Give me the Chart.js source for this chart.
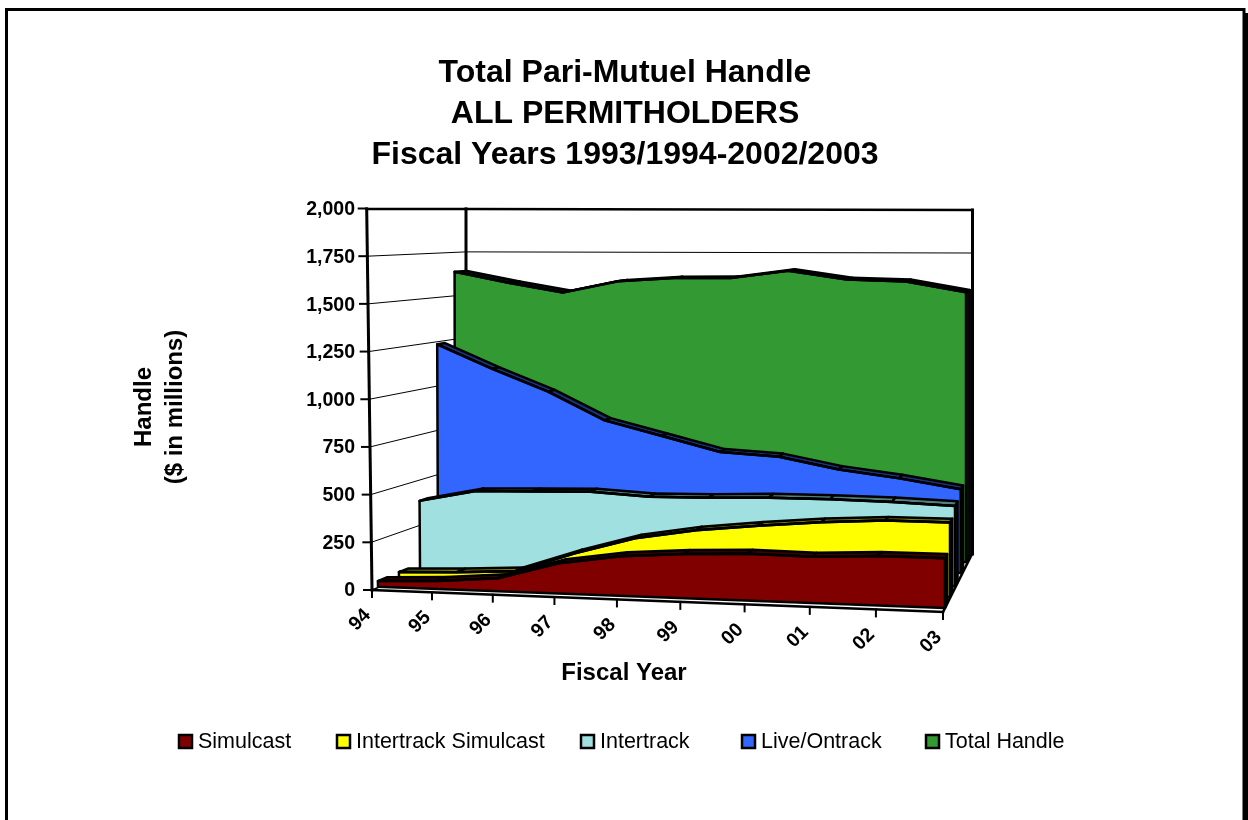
<!DOCTYPE html>
<html>
<head>
<meta charset="utf-8">
<title>Total Pari-Mutuel Handle</title>
<script src="https://cdn.jsdelivr.net/npm/chart.js@4"></script>
<style>html,body{margin:0;padding:0;background:#fff}canvas{display:block}</style>
</head>
<body>
<canvas id="c" width="1248" height="820"></canvas>
<script>
const categories = ['94','95','96','97','98','99','00','01','02','03'];
const simulcast = [30,42,68,158,206,228,240,235,250,250];
const intertrackSimulcast = [32,42,58,164,254,307,341,369,387,387];
const intertrack = [382,444,450,456,437,440,449,449,443,430];
const liveOntrack = [1232,1098,974,818,735,651,630,564,520,465];
const totalHandle = [1633,1573,1520,1587,1608,1611,1656,1608,1600,1541];
const yTicks = [0,250,500,750,1000,1250,1500,1750,2000];

const FONT = '"Liberation Sans", Arial, sans-serif';
const PLANE = {
  xL:[378,399,420,438,455], yL:[586.7,578,570,563,556], hL:[376,370,362,355,348], sL:[-4.5,-3.4,-2.3,-1.3,-0.5],
  xR:[945,950,955,960.7,966], yR:[608,597,586,573,562], hR:[398,385,372,360,350], sR:[0,0,0,0,0]
};
const DEPTHS = [0.45,0.45,0.45,0.45,0.7], PERSP = 1.065;
const lerp = (a,b,t) => a + (b-a)*t;
function pick(arr,d){ const i = Math.min(Math.floor(d),arr.length-2); return lerp(arr[i],arr[i+1],d-i); }
const persp = u => u/(u+(1-u)*PERSP);
function fractions(chart,k,v){
  const {x,y} = chart.scales, a = chart.chartArea;
  return {u:(x.getPixelForValue(k)-a.left)/(a.right-a.left), vf:(a.bottom-y.getPixelForValue(v))/(a.bottom-a.top)};
}
function project(chart,d,k,v){
  const {u,vf} = fractions(chart,k,v), s = persp(u);
  const bx = lerp(pick(PLANE.xL,d),pick(PLANE.xR,d),s), by = lerp(pick(PLANE.yL,d),pick(PLANE.yR,d),s);
  const h = lerp(pick(PLANE.hL,d),pick(PLANE.hR,d),s), sl = lerp(pick(PLANE.sL,d),pick(PLANE.sR,d),s);
  return {x:bx+sl*vf, y:by-h*vf};
}
function poly(ctx,pts,fill,stroke,lw){
  ctx.beginPath();
  pts.forEach((p,i)=> i?ctx.lineTo(p.x,p.y):ctx.moveTo(p.x,p.y));
  ctx.closePath();
  if(fill){ctx.fillStyle=fill;ctx.fill();}
  if(stroke){ctx.strokeStyle=stroke;ctx.lineWidth=lw;ctx.stroke();}
}
function seg(ctx,x1,y1,x2,y2,lw){
  ctx.beginPath();ctx.moveTo(x1,y1);ctx.lineTo(x2,y2);ctx.lineWidth=lw;ctx.strokeStyle='#000';ctx.stroke();
}
function text(ctx,str,x,y,font,rot,align){
  ctx.save();ctx.translate(x,y);ctx.rotate(rot||0);ctx.font=font;ctx.fillStyle='#000';
  ctx.textAlign=align||'center';ctx.textBaseline='middle';ctx.fillText(str,0,0);ctx.restore();
}
const scenePlugin = {
  id:'scene',
  afterLayout(chart){
    const t = chart.titleBlock; if(t){t.left=1;t.right=1249;}
  },
  afterDatasetsUpdate(chart){
    chart.data.datasets.forEach((ds,i)=>{
      chart.getDatasetMeta(i).data.forEach((pt,k)=>{
        const p = project(chart,i,k,ds.data[k]); pt.x=p.x; pt.y=p.y;
      });
    });
  },
  beforeDatasetsDraw(chart){
    const ctx = chart.ctx, ys = chart.scales.y, a = chart.chartArea;
    ctx.save();ctx.lineCap='square';
    const fl = {fx:372,fy:590,tx:366.7,ty:208.5};
    yTicks.forEach(v=>{
      const vf=(a.bottom-ys.getPixelForValue(v))/(a.bottom-a.top);
      const lx=lerp(fl.fx,fl.tx,vf), ly=lerp(fl.fy,fl.ty,vf);
      const bly=lerp(552,209,vf), bry=lerp(554,210,vf);
      seg(ctx,lx-8,ly,lx,ly,2);
      if(v>0&&v<2000){
        seg(ctx,lx,ly,466,bly,1);
        seg(ctx,466,bly,972,bry,1);
      }
    });
    seg(ctx,366.7,209,466,209,2.5);seg(ctx,466,209,972,210,2.5);
    seg(ctx,466,209,466,552,3);seg(ctx,972.5,210,972.5,554,3);
    seg(ctx,372,590,366.7,209,3);
    seg(ctx,372,590,466,552,1.5);seg(ctx,466,552,972,554,1);
    seg(ctx,372,590,943,612,2.5);seg(ctx,943,612,972,554,2.5);
    categories.forEach((c,k)=>{
      const {u}=fractions(chart,k,0), s=persp(u);
      const x=lerp(372,943,s), y=lerp(590,612,s);
      seg(ctx,x,y,x,y+7,2);
      text(ctx,c,x-12,y+30,'bold 19.5px '+FONT,-Math.PI/4);
    });
    ctx.restore();
  },
  beforeDatasetDraw(chart,args){
    const i=args.index, ds=chart.data.datasets[i], ctx=chart.ctx, n=ds.data.length;
    const d2=i+DEPTHS[i];
    ctx.save();ctx.lineJoin='round';
    const F=[],B=[];
    for(let k=0;k<n;k++){F.push(project(chart,i,k,ds.data[k]));B.push(project(chart,d2,k,ds.data[k]));}
    const f0=project(chart,i,n-1,0), b0=project(chart,d2,n-1,0), f00=project(chart,i,0,0);
    poly(ctx,[F[n-1],B[n-1],b0,f0],ds.shadeColor,'#000',2.5);
    for(let k=0;k<n-1;k++) poly(ctx,[F[k],F[k+1],B[k+1],B[k]],ds.shadeColor,'#000',2.5);
    poly(ctx,[f00].concat(F,[f0]),ds.faceColor,'#000',2.5);
    ctx.restore();
  },
  afterDraw(chart){
    const ctx=chart.ctx;
    ctx.save();
    ctx.strokeStyle='#000';ctx.lineWidth=3;
    ctx.beginPath();ctx.moveTo(6.5,825);ctx.lineTo(6.5,9.5);ctx.lineTo(1244,9.5);ctx.lineTo(1244,825);ctx.stroke();
    ctx.fillStyle='#000';ctx.fillRect(1245,13,3,807);
    text(ctx,'Fiscal Year',624,673,'bold 24px '+FONT);
    text(ctx,'Handle',144,407,'bold 24px '+FONT,-Math.PI/2);
    text(ctx,'($ in millions)',175,407,'bold 24px '+FONT,-Math.PI/2);
    const boxes=[178,336,580,741,925];
    chart.data.datasets.forEach((ds,i)=>{
      ctx.fillStyle=ds.faceColor;ctx.strokeStyle='#000';ctx.lineWidth=2.5;
      ctx.fillRect(boxes[i]+1,735,13,13);ctx.strokeRect(boxes[i]+1,735,13,13);
      text(ctx,ds.label,boxes[i]+20,742,'21.5px '+FONT,0,'left');
    });
    ctx.restore();
  }
};
const make=(label,data,face,shade)=>({label,data,faceColor:face,shadeColor:shade,backgroundColor:face,
  borderColor:'#000',borderWidth:2.5,fill:false,pointRadius:0,tension:0,clip:false});
new Chart(document.getElementById('c'),{
  type:'line',
  data:{labels:categories,datasets:[
    make('Simulcast',simulcast,'#800000','#400000'),
    make('Intertrack Simulcast',intertrackSimulcast,'#ffff00','#808000'),
    make('Intertrack',intertrack,'#a0e0e0','#508080'),
    make('Live/Ontrack',liveOntrack,'#3366ff','#1a3380'),
    make('Total Handle',totalHandle,'#339933','#0a1a0a')
  ]},
  plugins:[scenePlugin],
  options:{
    responsive:false,animation:false,events:[],
    layout:{padding:{left:5,right:303,top:0,bottom:230}},
    plugins:{
      legend:{display:false},tooltip:{enabled:false},
      title:{display:true,text:['Total Pari-Mutuel Handle','ALL PERMITHOLDERS','Fiscal Years 1993/1994-2002/2003'],
        color:'#000',font:{family:FONT,size:32,weight:'bold',lineHeight:1.28},padding:{top:53,bottom:33}}
    },
    scales:{
      x:{type:'category',grid:{display:false},border:{display:false},ticks:{display:false},
        afterFit(s){s.height=0;}},
      y:{min:0,max:2000,grid:{display:false,drawTicks:false},border:{display:false},
        afterFit(s){s.width=362;},
        afterBuildTicks(s){s.ticks=yTicks.map(v=>({value:v}));},
        ticks:{color:'#000',padding:12,labelOffset:1,font:{family:FONT,size:19.5,weight:'bold'},
          callback:v=>Number(v).toLocaleString('en-US')}}
    }
  }
});
</script>
</body>
</html>
